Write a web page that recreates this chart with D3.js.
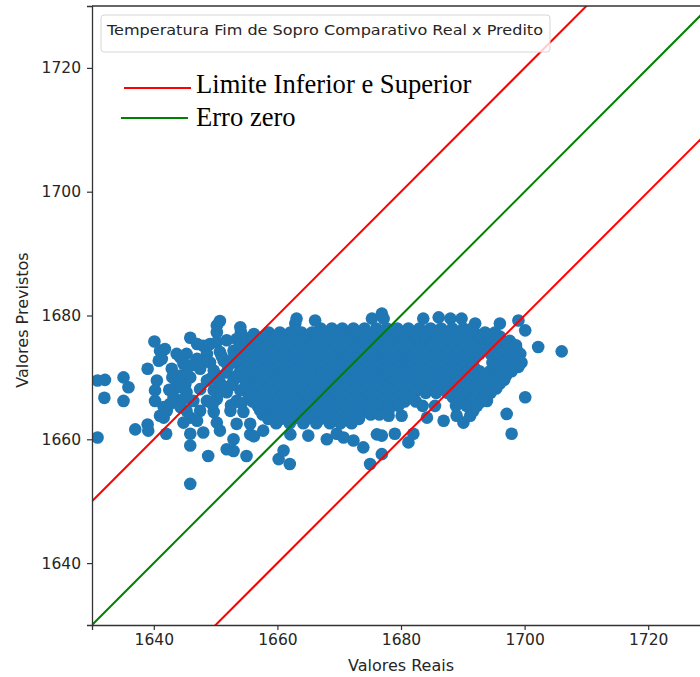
<!DOCTYPE html>
<html>
<head>
<meta charset="utf-8">
<script src="https://cdn.jsdelivr.net/npm/d3@7"></script>
<style>
  body { margin: 0; background: #fff; }
  text { font-family: "DejaVu Sans", sans-serif; fill: #262626; }
</style>
</head>
<body>
<svg id="chart" width="700" height="677"></svg>
<script>
// Eixos (valores reais x previstos)
const dominio = [1630, 1730];
const ticks = [1640, 1660, 1680, 1700, 1720];

// Retas: erro zero e limites de +/- 20
const desvioLimite = 20;
const legendaTitulo = "Temperatura Fim de Sopro Comparativo Real x Predito";
const legendaItens = [
    { nome: "Limite Inferior e Superior", cor: "red" },
    { nome: "Erro zero", cor: "green" }
];

// Pontos isolados [real, previsto]
const pontosIsolados = [
    [1630.9,1669.5],[1632.1,1669.6],[1632.0,1666.7],[1630.9,1660.3],
    [1635.1,1670.0],[1635.9,1668.4],[1635.1,1666.2],[1637.0,1661.6],
    [1639.0,1662.4],[1639.1,1661.4],[1639.0,1671.4],[1640.1,1675.8],
    [1641.0,1674.3],[1641.8,1674.6],[1640.8,1672.7],[1641.3,1673.0],
    [1640.5,1669.5],[1640.2,1667.9],[1640.2,1666.2],[1641.0,1663.8],
    [1642.1,1664.6],[1642.0,1660.9],[1642.9,1671.4],[1644.3,1673.2],
    [1645.3,1673.8],[1645.9,1676.4],[1644.0,1668.4],[1645.1,1668.9],
    [1645.9,1670.0],[1642.6,1665.7],[1643.7,1666.2],[1645.3,1664.6],
    [1645.9,1663.5],[1645.9,1660.9],[1645.9,1659.0],[1645.9,1652.8],
    [1648.0,1661.1],[1648.0,1675.1],[1648.8,1657.3],[1650.2,1678.4],
    [1650.7,1679.1],[1650.2,1677.3],[1651.8,1658.4],[1652.9,1658.1],
    [1652.9,1660.0],[1654.0,1678.1],[1654.1,1677.3],[1655.0,1657.3],
    [1655.6,1660.8],[1656.2,1660.5],[1657.7,1661.4],[1660.2,1656.8],
    [1661.0,1658.2],[1662.0,1656.0],[1662.1,1660.8],[1662.9,1678.7],
    [1663.1,1679.5],[1665.0,1660.6],[1666.1,1679.2],[1668.0,1660.0],
    [1669.6,1660.9],[1670.7,1660.3],[1672.3,1659.8],[1673.9,1658.7],
    [1675.0,1656.0],[1675.3,1679.5],[1676.9,1680.3],[1677.2,1679.5],
    [1676.1,1660.8],[1676.9,1660.6],[1676.9,1657.6],[1678.0,1663.8],
    [1679.0,1660.9],[1680.1,1663.8],[1681.2,1659.5],[1682.0,1660.9],
    [1683.6,1679.5],[1686.1,1679.7],[1688.0,1679.5],[1689.8,1679.5],
    [1684.2,1663.5],[1686.9,1663.0],[1689.0,1663.8],[1690.1,1662.7],
    [1691.2,1663.8],[1692.0,1678.7],[1696.0,1678.7],[1699.0,1679.2],
    [1700.1,1677.6],[1702.2,1674.9],[1706.0,1674.2],[1700.1,1666.8],
    [1697.1,1664.1],[1697.9,1660.9],[1691.7,1664.6],[1693.9,1666.2],
    [1696.0,1669.0]
];

// Regiao esparsa a esquerda do nucleo
const pontosEsquerda = [
    [1649.1,1675.4],[1650.2,1675.7],[1651.8,1676.0],[1653.4,1676.2],
    [1648.6,1673.8],[1650.7,1674.1],[1652.9,1674.3],
    [1647.0,1673.0],[1649.1,1672.4],[1651.3,1672.7],[1653.4,1672.4],
    [1644.8,1672.2],[1647.5,1671.4],[1649.7,1671.1],[1651.8,1670.8],[1654.0,1671.1],
    [1644.3,1670.3],[1648.6,1669.5],[1650.7,1669.2],[1652.9,1669.5],
    [1643.7,1668.9],[1645.3,1667.6],[1647.5,1668.1],[1649.7,1667.9],[1651.8,1667.6],[1654.0,1667.9],
    [1643.2,1666.8],[1646.4,1666.2],[1648.6,1666.2],[1650.2,1666.5],[1653.4,1666.2],
    [1641.6,1665.2],[1644.3,1665.2],[1647.5,1664.6],[1649.7,1664.4],[1652.4,1664.6],[1654.5,1664.4],
    [1644.8,1662.7],[1647.0,1663.0],[1650.2,1662.7],[1653.4,1662.5],[1655.6,1662.5],
    [1650.7,1661.4],[1641.6,1663.5],[1643.7,1673.8],[1647.0,1675.4],
    [1651.0,1673.4],[1653.0,1673.4],[1652.0,1671.8],[1650.5,1670.2],[1652.3,1668.6],
    [1653.5,1670.3],[1650.8,1668.3],[1652.5,1665.5],[1654.2,1665.8],[1649.2,1669.8],
    [1648.0,1672.5],[1654.0,1675.3],[1655.0,1676.3],[1656.2,1677.0],[1649.5,1665.6],
    [1646.2,1672.0],[1645.5,1671.6],[1643.0,1670.0],[1642.5,1668.0],[1644.8,1666.5]
];

// Nucleo denso: [previsto, [reais...]]
const nucleo = [
    [1677.9, [1667.0,1668.8,1670.5,1672.3,1674.1,1676.0,1677.7,1679.4,1681.2,1683.0,1684.8,1686.5,1688.3,1690.1,1691.5]],
    [1677.25,[1658.6,1660.4,1662.1,1663.9,1665.6,1667.4,1669.1,1670.9,1672.6,1674.4,1676.1,1677.9,1679.6,1681.4,1683.1,1684.9,1686.6,1688.4,1690.1,1691.9,1693.6,1695.2]],
    [1676.6, [1657.8,1659.5,1661.3,1663.0,1664.8,1666.5,1668.3,1670.0,1671.8,1673.5,1675.3,1677.0,1678.8,1680.5,1682.3,1684.0,1685.8,1687.5,1689.3,1691.0,1692.8,1694.5,1696.0]],
    [1675.9, [1655.9,1657.6,1659.4,1661.1,1662.9,1664.6,1666.4,1668.1,1669.9,1671.6,1673.4,1675.1,1676.9,1678.6,1680.4,1682.1,1683.9,1685.6,1687.4,1689.1,1690.9,1692.6,1694.4,1696.1,1697.6]],
    [1675.2, [1655.1,1656.8,1658.6,1660.3,1662.1,1663.8,1665.6,1667.3,1669.1,1670.8,1672.6,1674.3,1676.1,1677.8,1679.6,1681.3,1683.1,1684.8,1686.6,1688.3,1690.1,1691.8,1693.6,1695.3,1697.1,1698.6]],
    [1674.5, [1655.2,1656.9,1658.6,1660.4,1662.1,1663.9,1665.6,1667.4,1669.1,1670.9,1672.6,1674.4,1676.1,1677.9,1679.6,1681.4,1683.1,1684.9,1686.6,1688.4,1690.1,1691.9,1693.6,1695.4,1697.1,1698.7]],
    [1673.8, [1654.4,1656.0,1657.7,1659.5,1661.2,1663.0,1664.7,1666.5,1668.2,1670.0,1671.7,1673.5,1675.2,1677.0,1678.7,1680.5,1682.2,1684.0,1685.7,1687.5,1689.2,1691.0,1692.7,1694.5,1696.2,1697.9,1699.3]],
    [1673.1, [1655.2,1656.9,1658.7,1660.4,1662.2,1663.9,1665.7,1667.4,1669.2,1670.9,1672.7,1674.4,1676.2,1677.9,1679.7,1681.4,1683.2,1684.9,1686.7,1688.4,1690.2,1691.9,1695.4,1697.2,1698.8]],
    [1672.4, [1654.6,1656.3,1658.1,1659.8,1661.6,1663.3,1665.1,1666.8,1668.6,1670.3,1672.1,1673.8,1675.6,1677.3,1679.1,1680.8,1682.6,1684.3,1686.1,1687.8,1689.6,1691.3,1694.8,1696.6,1698.2,1699.5]],
    [1671.7, [1655.0,1656.8,1658.5,1660.3,1662.0,1663.8,1665.5,1667.3,1669.0,1670.8,1672.5,1674.3,1676.0,1677.8,1679.5,1681.3,1683.0,1684.8,1686.5,1688.3,1690.0,1691.8,1695.7,1697.4,1699.0]],
    [1671.0, [1654.2,1655.9,1657.7,1659.4,1661.2,1662.9,1664.7,1666.4,1668.2,1669.9,1671.7,1673.4,1675.2,1676.9,1678.7,1680.4,1682.2,1683.9,1685.7,1687.4,1689.2,1690.9,1692.7,1694.4,1696.2,1697.9]],
    [1670.3, [1655.0,1656.7,1658.5,1660.2,1662.0,1663.7,1665.5,1667.2,1669.0,1670.7,1672.5,1674.2,1676.0,1677.7,1679.5,1681.2,1683.0,1684.7,1686.5,1688.2,1690.0,1691.7,1693.5,1695.2,1697.0]],
    [1669.6, [1654.7,1656.4,1658.2,1659.9,1661.7,1663.4,1665.2,1666.9,1668.7,1670.4,1672.2,1673.9,1675.7,1677.4,1679.2,1680.9,1682.7,1684.4,1686.2,1687.9,1689.7,1691.4,1693.2,1694.9,1696.7]],
    [1668.9, [1655.5,1657.2,1659.0,1660.7,1662.5,1664.2,1666.0,1667.7,1669.5,1671.2,1673.0,1674.7,1676.5,1678.2,1680.0,1681.7,1683.5,1685.2,1687.0,1688.7,1690.5,1692.2,1694.0,1695.8]],
    [1668.2, [1655.2,1656.9,1658.7,1660.4,1662.2,1663.9,1665.7,1667.4,1669.2,1670.9,1672.7,1674.4,1676.2,1677.9,1679.7,1681.4,1683.2,1684.9,1686.7,1688.4,1690.2,1691.9,1693.7,1695.4]],
    [1667.5, [1656.0,1657.7,1659.5,1661.2,1663.0,1664.7,1666.5,1668.2,1670.0,1671.7,1673.5,1675.2,1677.0,1678.7,1680.5,1682.2,1684.0,1685.7,1687.5,1689.2,1691.0,1692.7,1694.5]],
    [1666.8, [1655.4,1657.1,1658.9,1660.6,1662.4,1664.1,1665.9,1667.6,1669.4,1671.1,1672.9,1674.6,1676.4,1678.1,1679.9,1681.6,1688.4,1690.1,1691.9,1693.6]],
    [1666.1, [1656.0,1657.8,1659.6,1661.3,1663.1,1664.8,1666.6,1668.3,1670.1,1671.8,1673.6,1675.3,1677.1,1678.8,1680.6,1682.4,1689.5,1691.3,1693.0]],
    [1665.4, [1656.8,1658.5,1660.3,1662.0,1663.8,1665.5,1667.3,1669.0,1670.8,1672.5,1674.3,1676.0,1677.8,1679.6,1683.5,1685.5,1688.9,1690.6,1692.3]],
    [1664.7, [1657.2,1659.0,1660.7,1662.5,1664.2,1666.0,1667.7,1669.5,1671.2,1673.0,1674.7,1676.3,1678.0]],
    [1664.0, [1657.6,1659.4,1661.1,1662.9,1664.6,1666.4,1668.1,1669.9,1671.6,1673.4,1675.1,1676.5]],
    [1663.3, [1658.5,1660.6,1662.6,1664.8,1667.0,1669.2,1671.0,1673.2]],
    [1662.6, [1659.8,1662.0,1664.2,1666.3,1668.5,1670.2,1672.0]]
];

const pontos = pontosIsolados
    .concat(pontosEsquerda)
    .concat(nucleo.flatMap(([prev, reais]) => reais.map(r => [r, prev])));

// SVG setup
const svg = d3.select("#chart");
const mLeft = 92, mTop = 6, mBottom = 625, mRight = 710;

const x = d3.scaleLinear().domain(dominio).range([mLeft, mRight]);
const y = d3.scaleLinear().domain(dominio).range([mBottom, mTop]);

svg.append("defs").append("clipPath").attr("id", "area")
    .append("rect")
    .attr("x", mLeft).attr("y", mTop)
    .attr("width", mRight - mLeft).attr("height", mBottom - mTop);

const plot = svg.append("g").attr("clip-path", "url(#area)");

// Pontos
plot.selectAll("circle")
    .data(pontos)
    .enter().append("circle")
    .attr("cx", d => x(d[0]))
    .attr("cy", d => y(d[1]))
    .attr("r", 6.3)
    .attr("fill", "#1f77b4");

// Retas
const retas = [
    { desvio: desvioLimite, cor: "red" },
    { desvio: -desvioLimite, cor: "red" },
    { desvio: 0, cor: "green" }
];
plot.selectAll(".reta")
    .data(retas)
    .enter().append("line")
    .attr("class", "reta")
    .attr("x1", x(dominio[0])).attr("y1", d => y(dominio[0] + d.desvio))
    .attr("x2", x(dominio[1])).attr("y2", d => y(dominio[1] + d.desvio))
    .attr("stroke", d => d.cor)
    .attr("stroke-width", 2);

// Eixos
const xAxis = svg.append("g")
    .attr("transform", `translate(0,${mBottom})`)
    .call(d3.axisBottom(x).tickValues(ticks).tickSize(5).tickPadding(4).tickFormat(d3.format("d")));
const yAxis = svg.append("g")
    .attr("transform", `translate(${mLeft},0)`)
    .call(d3.axisLeft(y).tickValues(ticks).tickSize(5).tickPadding(6).tickFormat(d3.format("d")));

[xAxis, yAxis].forEach(g => {
    g.select(".domain").attr("stroke", "#333").attr("stroke-width", 1.3);
    g.selectAll(".tick line").attr("stroke", "#333").attr("stroke-width", 1.2);
    g.selectAll(".tick text")
        .attr("font-size", 15.5)
        .attr("font-family", "DejaVu Sans")
        .attr("fill", "#262626");
});
svg.append("line")
    .attr("x1", mLeft).attr("x2", mRight)
    .attr("y1", mTop).attr("y2", mTop)
    .attr("stroke", "#333").attr("stroke-width", 1.3);

svg.append("text")
    .attr("x", 401).attr("y", 671)
    .attr("text-anchor", "middle")
    .attr("font-size", 16)
    .text("Valores Reais");

svg.append("text")
    .attr("transform", "translate(28,320) rotate(-90)")
    .attr("text-anchor", "middle")
    .attr("font-size", 16)
    .text("Valores Previstos");

// Legenda
svg.append("rect")
    .attr("x", 101).attr("y", 15)
    .attr("width", 449).attr("height", 37)
    .attr("rx", 3)
    .attr("fill", "#fff").attr("fill-opacity", 0.8)
    .attr("stroke", "#d6d6d6");

svg.append("text")
    .attr("x", 107).attr("y", 35)
    .attr("font-size", 14)
    .attr("textLength", 436)
    .attr("lengthAdjust", "spacingAndGlyphs")
    .text(legendaTitulo);

const linhasY = [88, 118], textosY = [93, 126];
const item = svg.selectAll(".item")
    .data(legendaItens)
    .enter().append("g")
    .attr("class", "item");

item.append("line")
    .attr("x1", (d, i) => i ? 121 : 124)
    .attr("x2", (d, i) => i ? 188 : 191)
    .attr("y1", (d, i) => linhasY[i])
    .attr("y2", (d, i) => linhasY[i])
    .attr("stroke", d => d.cor)
    .attr("stroke-width", 2);

item.append("text")
    .attr("x", 196)
    .attr("y", (d, i) => textosY[i])
    .attr("font-size", 26.6)
    .style("font-family", "'Liberation Serif', serif")
    .style("fill", "#000")
    .text(d => d.nome);
</script>
</body>
</html>
